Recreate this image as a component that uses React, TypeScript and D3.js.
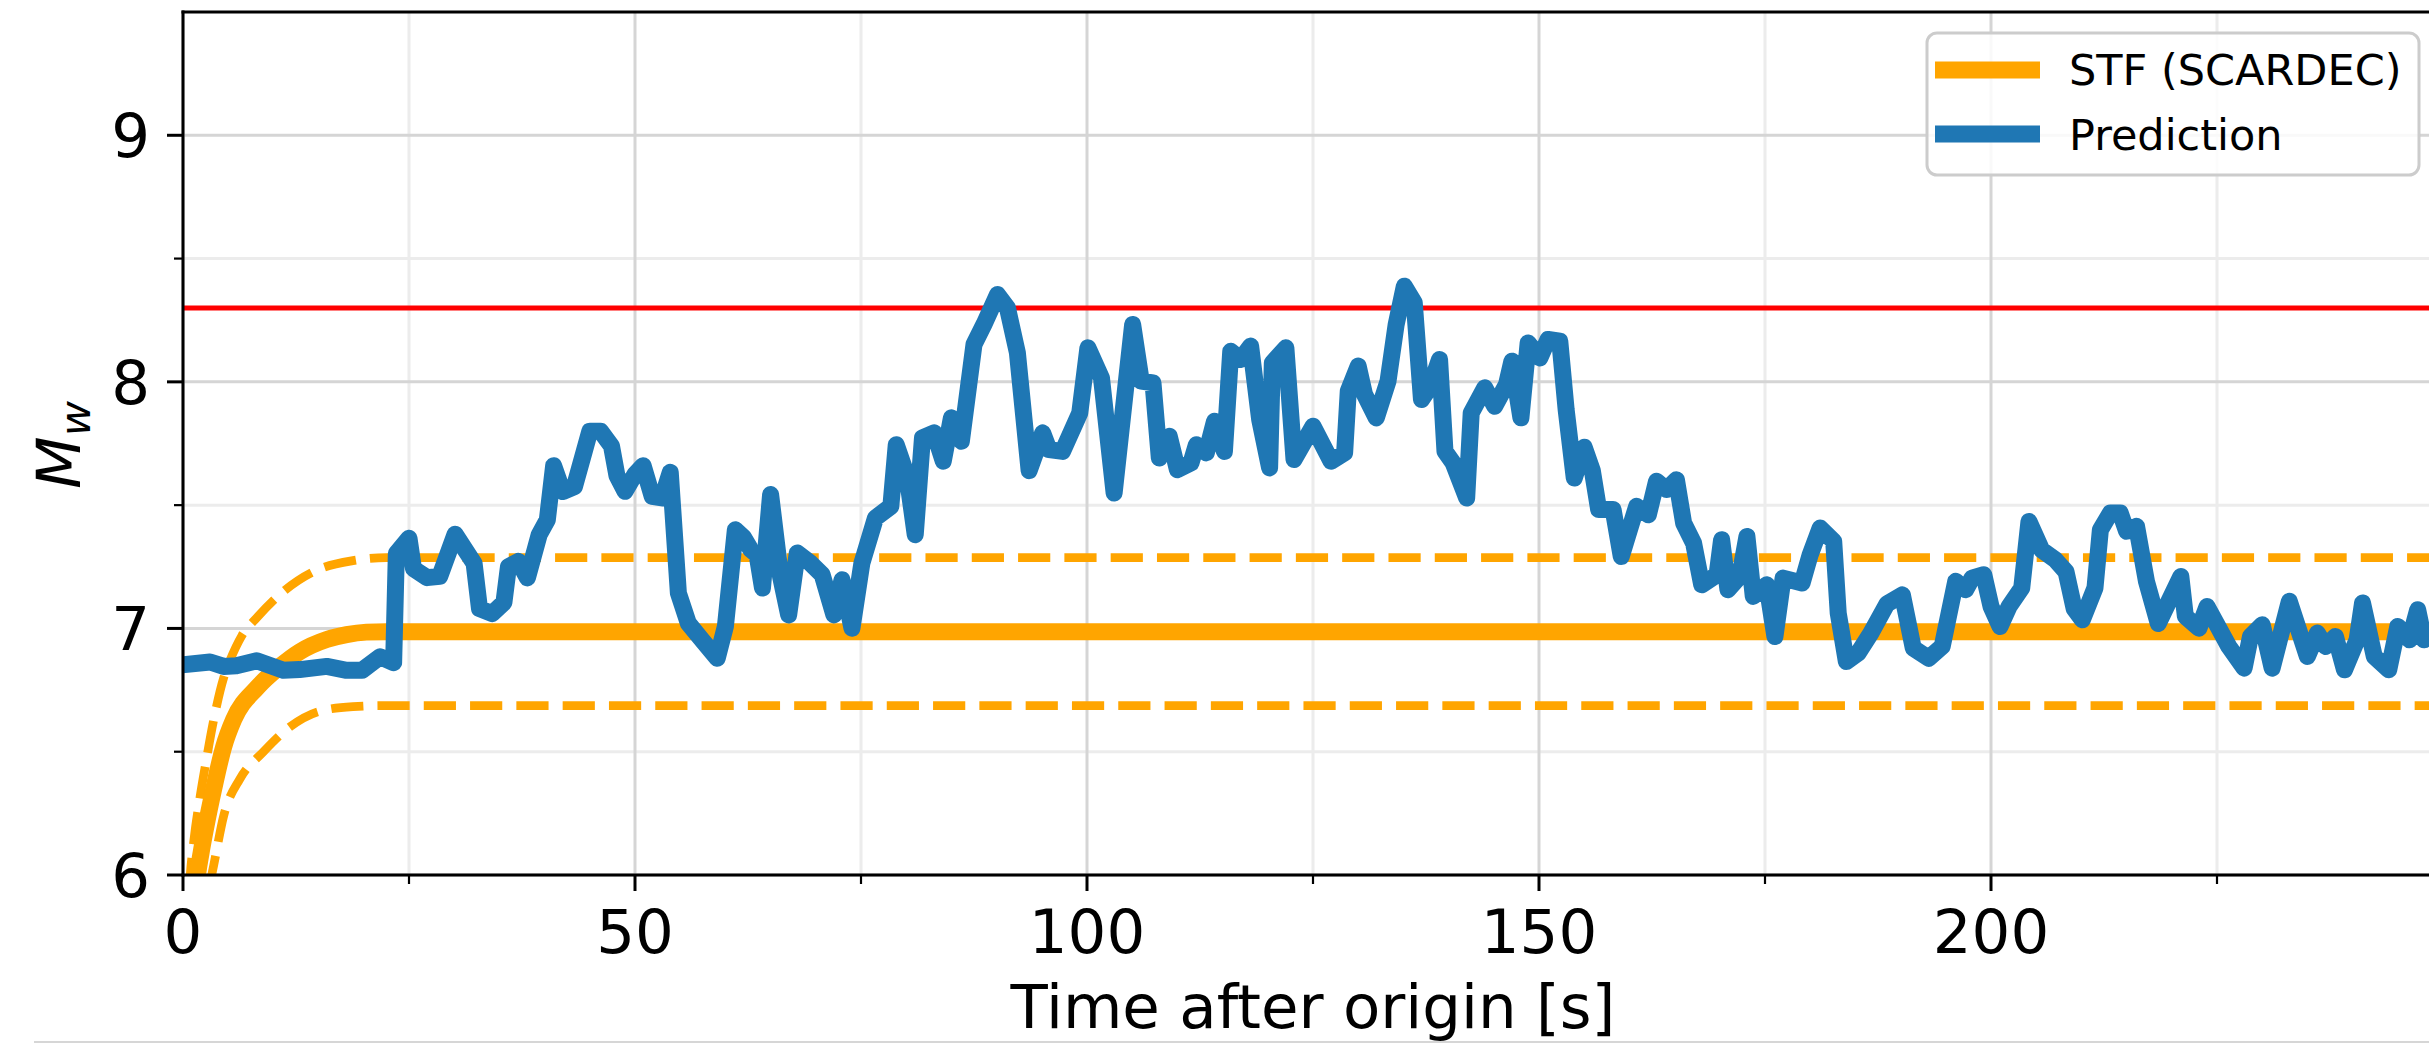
import React, { useEffect, useRef } from "react";
import * as d3 from "d3";

// STF (SCARDEC) moment magnitude, time in seconds
const stfTime = [0.8, 1.2, 1.5, 2.0, 2.5, 3.4, 4.5, 5.6, 8.2, 10.7, 12.9, 15.9, 18.1, 20.3, 22.5, 250];
const stfMw = [5.7, 5.86, 5.97, 6.09, 6.19, 6.35, 6.52, 6.63, 6.76, 6.845, 6.905, 6.955, 6.975, 6.985, 6.987, 6.987];

// upper / lower bounds (dashed)
const upperTime = [0.4, 0.8, 1.2, 1.9, 2.5, 3.4, 4.5, 5.2, 6.5, 8.2, 11.1, 14.4, 18.8, 22.5, 250];
const upperMw = [5.75, 6.0, 6.14, 6.32, 6.45, 6.63, 6.8, 6.87, 6.97, 7.045, 7.15, 7.23, 7.275, 7.287, 7.287];
const lowerTime = [2.5, 3.4, 4.5, 6.3, 8.9, 11.8, 15.2, 18.8, 22.5, 250];
const lowerMw = [5.88, 6.04, 6.24, 6.39, 6.5, 6.6, 6.665, 6.683, 6.687, 6.687];

// prediction
const predTime = [
  0, 3.0, 4.5, 5.9, 8.15, 11.1, 12.9, 15.9, 18.1, 19.8, 21.8, 23.3, 23.6, 25.0, 25.5, 27.0, 28.4, 30.1,
  32.2, 32.8, 34.2, 35.5, 36.0, 37.1, 38.1, 39.4, 40.3, 41.0, 42.0, 43.3, 44.4, 45.0, 46.2, 47.4, 48.0,
  48.9, 50.0, 50.9, 51.9, 53.0, 53.9, 54.8, 55.9, 57.4, 59.1, 60.0, 61.1, 62.0, 62.8, 63.5, 64.1, 65.0,
  66.1, 67.0, 67.95, 69.4, 70.7, 72.0, 72.9, 74.0, 75.1, 76.6, 78.3, 78.9, 80.1, 81.0, 81.8, 83.1, 84.1,
  85.0, 86.1, 87.5, 88.6, 90.1, 91.2, 92.3, 93.6, 95.1, 95.8, 97.3, 99.2, 100.1, 101.6, 103.0, 105.05,
  106.0, 107.3, 108.0, 109.1, 110.0, 111.5, 112.1, 113.2, 114.1, 115.2, 115.9, 117.0, 118.1, 119.1,
  120.2, 120.5, 122.0, 122.9, 125.0, 127.0, 128.5, 128.9, 130.0, 130.7, 132.0, 133.3, 134.2, 135.1,
  136.2, 137.0, 137.9, 139.0, 139.6, 140.5, 142.0, 142.5, 144.0, 145.1, 146.4, 147.0, 148.0, 148.8,
  150.1, 151.0, 152.3, 153.0, 153.9, 155.0, 155.9, 156.6, 158.2, 159.1, 160.8, 162.1, 163.0, 164.1,
  165.2, 166.0, 167.1, 168.0, 169.7, 170.2, 170.9, 172.2, 173.0, 173.7, 175.2, 176.1, 177.0, 179.1,
  180.0, 181.1, 182.6, 183.1, 184.0, 185.3, 186.7, 188.5, 190.2, 191.4, 193.1, 194.6, 196.1, 197.2,
  197.9, 199.2, 200.0, 201.0, 202.0, 203.4, 204.2, 205.6, 207.1, 208.3, 209.2, 210.1, 211.5, 212.1,
  213.2, 214.3, 215.0, 216.1, 217.2, 218.5, 221.0, 221.5, 223.0, 223.9, 226.3, 228.0, 228.7, 230.0,
  231.1, 233.0, 235.0, 236.1, 237.0, 238.1, 239.1, 240.5, 241.1, 242.4, 244.0, 245.0, 246.3, 247.2,
  247.9, 248.6,
];
const predMw = [
  6.853, 6.864, 6.846, 6.849, 6.869, 6.83, 6.833, 6.846, 6.83, 6.83, 6.885, 6.861, 7.304, 7.366, 7.242,
  7.206, 7.211, 7.382, 7.264, 7.08, 7.06, 7.105, 7.25, 7.272, 7.205, 7.38, 7.44, 7.66, 7.555, 7.575,
  7.72, 7.8, 7.8, 7.74, 7.62, 7.556, 7.625, 7.66, 7.536, 7.529, 7.633, 7.143, 7.021, 6.954, 6.879,
  7.008, 7.4, 7.37, 7.32, 7.299, 7.164, 7.543, 7.211, 7.055, 7.306, 7.265, 7.218, 7.055, 7.197, 7.001,
  7.265, 7.448, 7.495, 7.745, 7.617, 7.38, 7.773, 7.793, 7.678, 7.854, 7.759, 8.152, 8.233, 8.354,
  8.3, 8.118, 7.64, 7.793, 7.725, 7.718, 7.874, 8.138, 8.016, 7.549, 8.233, 8.003, 7.996, 7.691, 7.779,
  7.644, 7.671, 7.745, 7.712, 7.84, 7.718, 8.124, 8.091, 8.145, 7.847, 7.651, 8.077, 8.138, 7.685,
  7.82, 7.678, 7.712, 7.962, 8.064, 7.949, 7.854, 8.003, 8.233, 8.388, 8.321, 7.928, 7.976, 8.091,
  7.718, 7.671, 7.529, 7.874, 7.976, 7.901, 7.989, 8.084, 7.854, 8.158, 8.097, 8.172, 8.165, 7.888,
  7.61, 7.735, 7.64, 7.482, 7.482, 7.292, 7.495, 7.461, 7.597, 7.563, 7.603, 7.427, 7.346, 7.177,
  7.218, 7.36, 7.157, 7.211, 7.373, 7.13, 7.177, 6.967, 7.204, 7.184, 7.299, 7.407, 7.353, 7.062,
  6.866, 6.9, 6.98, 7.1, 7.136, 6.92, 6.879, 6.927, 7.191, 7.157, 7.204, 7.218, 7.089, 7.008, 7.089,
  7.164, 7.434, 7.319, 7.279, 7.23, 7.08, 7.035, 7.164, 7.4, 7.468, 7.468, 7.394, 7.414, 7.19, 7.02,
  7.211, 7.049, 7.001, 7.089, 6.927, 6.839, 6.967, 7.015, 6.839, 7.11, 6.886, 6.981, 6.927, 6.967,
  6.832, 6.954, 7.103, 6.886, 6.832, 7.008, 6.954, 7.076, 6.954, 6.981,
];

const refMw = 8.3;

const xMajor = [0, 50, 100, 150, 200];
const xMinor = [25, 75, 125, 175, 225];
const yMajor = [6, 7, 8, 9];
const yMinor = [6.5, 7.5, 8.5];

const W = 2429;
const H = 1046;
const FONT = "DejaVu Sans, sans-serif";
const DASH = 32.2;
const GAP = 14.1;

const zip = (a: number[], b: number[]): [number, number][] => a.map((v, i) => [v, b[i]]);

export default function App() {
  const upperRef = useRef<SVGPathElement>(null);
  const lowerRef = useRef<SVGPathElement>(null);

  const x = d3.scaleLinear().domain([0, 250]).range([183, 2443]);
  const y = d3.scaleLinear().domain([6, 9.5]).range([875, 12]);

  const smooth = d3
    .line<[number, number]>()
    .x((d) => x(d[0]))
    .y((d) => y(d[1]))
    .curve(d3.curveMonotoneX);
  const straight = d3
    .line<[number, number]>()
    .x((d) => x(d[0]))
    .y((d) => y(d[1]));

  const [x0, x1] = x.range();
  const [y0, y1] = y.range();

  useEffect(() => {
    // line up dash phase on the flat part like the original
    const period = DASH + GAP;
    const pairs: [SVGPathElement | null, number][] = [
      [upperRef.current, 555],
      [lowerRef.current, 470],
    ];
    pairs.forEach(([el, startX]) => {
      if (!el) return;
      const s = el.getTotalLength() - (x(250) - startX);
      const off = period - (((s % period) + period) % period);
      d3.select(el).attr("stroke-dashoffset", off);
    });
  }, []);

  return (
    <svg
      width={W}
      height={H}
      style={{ position: "absolute", left: 0, top: 0, display: "block", background: "#fff" }}
      fontFamily={FONT}
    >
      <defs>
        <clipPath id="plot">
          <rect x={x0} y={y1} width={x1 - x0} height={y0 - y1} />
        </clipPath>
      </defs>
      <rect width={W} height={H} fill="#fff" />

      {/* grid */}
      {yMinor.map((v) => (
        <line key={"gy" + v} x1={x0} x2={x1} y1={y(v)} y2={y(v)} stroke="#ececec" strokeWidth={3} />
      ))}
      {xMinor.map((v) => (
        <line key={"gx" + v} x1={x(v)} x2={x(v)} y1={y0} y2={y1} stroke="#ececec" strokeWidth={3} />
      ))}
      {yMajor.map((v) => (
        <line key={"Gy" + v} x1={x0} x2={x1} y1={y(v)} y2={y(v)} stroke="#d5d5d5" strokeWidth={3} />
      ))}
      {xMajor.map((v) => (
        <line key={"Gx" + v} x1={x(v)} x2={x(v)} y1={y0} y2={y1} stroke="#d5d5d5" strokeWidth={3} />
      ))}

      <g clipPath="url(#plot)" fill="none">
        <path
          ref={upperRef}
          d={smooth(zip(upperTime, upperMw)) || ""}
          stroke="#ffa500"
          strokeWidth={8.7}
          strokeDasharray={`${DASH} ${GAP}`}
        />
        <path
          ref={lowerRef}
          d={smooth(zip(lowerTime, lowerMw)) || ""}
          stroke="#ffa500"
          strokeWidth={8.7}
          strokeDasharray={`${DASH} ${GAP}`}
        />
        <path d={smooth(zip(stfTime, stfMw)) || ""} stroke="#ffa500" strokeWidth={17} strokeLinejoin="round" />
        <line x1={x0} x2={x1} y1={y(refMw)} y2={y(refMw)} stroke="#ff0000" strokeWidth={5} />
        <path
          d={straight(zip(predTime, predMw)) || ""}
          stroke="#1f77b4"
          strokeWidth={17}
          strokeLinejoin="round"
          strokeLinecap="square"
        />
      </g>

      {/* spines */}
      <line x1={x0} x2={x0} y1={y0 + 1.5} y2={y1 - 1.5} stroke="#000" strokeWidth={3} />
      <line x1={x0 - 1.5} x2={x1} y1={y0} y2={y0} stroke="#000" strokeWidth={3} />
      <line x1={x0 - 1.5} x2={x1} y1={y1} y2={y1} stroke="#000" strokeWidth={3} />
      <line x1={x1} x2={x1} y1={y0} y2={y1} stroke="#000" strokeWidth={3} />

      {/* y ticks */}
      {yMajor.map((v) => (
        <g key={"ty" + v}>
          <line x1={x0 - 16} x2={x0} y1={y(v)} y2={y(v)} stroke="#000" strokeWidth={3} />
          <text x={150} y={y(v) + 22} fontSize={61} textAnchor="end" fill="#000">
            {v}
          </text>
        </g>
      ))}
      {yMinor.map((v) => (
        <line key={"my" + v} x1={x0 - 9} x2={x0} y1={y(v)} y2={y(v)} stroke="#000" strokeWidth={2.2} />
      ))}

      {/* x ticks */}
      {xMajor.map((v) => (
        <g key={"tx" + v}>
          <line x1={x(v)} x2={x(v)} y1={y0} y2={y0 + 16} stroke="#000" strokeWidth={3} />
          <text x={x(v)} y={953} fontSize={61} textAnchor="middle" fill="#000">
            {v}
          </text>
        </g>
      ))}
      {xMinor.map((v) => (
        <line key={"mx" + v} x1={x(v)} x2={x(v)} y1={y0} y2={y0 + 9} stroke="#000" strokeWidth={2.2} />
      ))}

      {/* axis labels */}
      <text x={(x0 + x1) / 2} y={1028} fontSize={61} textAnchor="middle" fill="#000">
        Time after origin [s]
      </text>
      <text transform="translate(80,445) rotate(-90)" fontSize={61} textAnchor="middle" fill="#000">
        <tspan fontStyle="italic">M</tspan>
        <tspan fontStyle="italic" fontSize={43} dy={10}>
          w
        </tspan>
      </text>

      {/* legend */}
      <g>
        <rect
          x={1927}
          y={33}
          width={492}
          height={142}
          rx={10}
          fill="#fff"
          fillOpacity={0.85}
          stroke="#cccccc"
          strokeWidth={3}
        />
        <line x1={1935} x2={2040} y1={70} y2={70} stroke="#ffa500" strokeWidth={17} />
        <text x={2069} y={85} fontSize={43} fill="#000">
          STF (SCARDEC)
        </text>
        <line x1={1935} x2={2040} y1={134} y2={134} stroke="#1f77b4" strokeWidth={17} />
        <text x={2069} y={150} fontSize={43} fill="#000">
          Prediction
        </text>
      </g>

      {/* page edge line */}
      <line x1={34} x2={W} y1={1042} y2={1042} stroke="#d6d6d6" strokeWidth={2} />
    </svg>
  );
}
